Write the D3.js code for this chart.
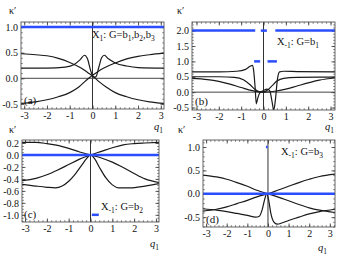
<!DOCTYPE html>
<html>
<head>
<meta charset="utf-8">
<script src="https://cdn.jsdelivr.net/npm/d3@7"></script>
<style>
  html, body { margin: 0; padding: 0; background: #fff; }
  svg text { font-family: "Liberation Serif", "DejaVu Serif", serif !important; fill: #111; }
</style>
</head>
<body>
<div id="chart"></div>
<script>
// ---- data: [q1, kappa'] pairs ----

// panel (a)  X1: G=b1,b2,b3
const aDown = [[-3.14, 0.48], [-2.5, 0.46], [-2, 0.44], [-1.5, 0.39], [-1, 0.31], [-0.5, 0.2], [-0.2, 0.11], [0, 0.05], [0.3, -0.07], [0.6, -0.17], [1, -0.28], [1.5, -0.36], [2, -0.42], [2.5, -0.46], [3.14, -0.49]];
const aUp = [[-3.14, -0.49], [-2.5, -0.46], [-2, -0.42], [-1.5, -0.36], [-1, -0.28], [-0.6, -0.17], [-0.3, -0.05], [0, 0.06], [0.2, 0.12], [0.5, 0.2], [1, 0.3], [1.5, 0.38], [2, 0.43], [2.5, 0.46], [3.14, 0.49]];
const aBump = [[-3.14, 0.2], [-2, 0.2], [-1.2, 0.22], [-0.8, 0.27], [-0.55, 0.36], [-0.35, 0.45], [-0.22, 0.38], [-0.08, 0.15], [0.05, 0.02], [0.15, 0.03], [0.28, 0.22], [0.4, 0.4], [0.52, 0.45], [0.7, 0.38], [1, 0.3], [1.5, 0.24], [2, 0.21], [3.14, 0.2]];
const aBlue = [[1.0, -3.14, 3.14]];   // [kappa', q from, q to]

// panel (b)  X-1: G=b1
const bSharp = [[-3.2, 0.66], [-2, 0.66], [-1.2, 0.68], [-0.8, 0.74], [-0.6, 0.84], [-0.5, 0.87], [-0.44, 0.7], [-0.38, 0.2], [-0.32, -0.38], [-0.26, -0.2], [-0.15, -0.01], [0, 0.05], [0.15, 0.1], [0.28, 0.05], [0.38, -0.3], [0.46, -0.58], [0.54, -0.2], [0.62, 0.4], [0.72, 0.66], [0.9, 0.68], [1.5, 0.67], [3.2, 0.66]];
const bFast = [[-3.2, 0.5], [-2, 0.5], [-1.3, 0.48], [-0.9, 0.4], [-0.6, 0.24], [-0.4, 0.1], [-0.2, 0.02], [0, 0.01], [0.2, 0.08], [0.4, 0.22], [0.6, 0.36], [0.9, 0.45], [1.5, 0.48], [2.5, 0.49], [3.2, 0.49]];
const bSlow = [[-3.2, 0.45], [-2.5, 0.41], [-2, 0.35], [-1.5, 0.26], [-1, 0.15], [-0.5, 0.05], [0, 0.0], [0.5, 0.03], [1, 0.1], [1.5, 0.2], [2, 0.3], [2.5, 0.39], [3.2, 0.46]];
const bBlue = [[2.0, -3.2, -0.37], [2.0, -0.12, 0.15], [2.0, 0.53, 3.2], [1.0, -0.42, -0.15], [1.0, 0.18, 0.6]];

// panel (c)  X-1: G=b2
const cDown = [[-3.14, 0.21], [-2.5, 0.21], [-2, 0.19], [-1.5, 0.16], [-1, 0.11], [-0.5, 0.05], [0, 0.0], [0.5, -0.05], [1, -0.12], [1.5, -0.21], [2, -0.31], [2.5, -0.4], [3.14, -0.46]];
const cUp = [[-3.14, -0.43], [-2.5, -0.39], [-2, -0.33], [-1.5, -0.25], [-1, -0.16], [-0.5, -0.07], [0, 0.0], [0.5, 0.06], [1, 0.12], [1.5, 0.17], [2, 0.19], [2.5, 0.2], [3.14, 0.21]];
const cDip = [[-3.14, -0.49], [-2.5, -0.52], [-2, -0.54], [-1.6, -0.55], [-1.3, -0.52], [-1, -0.44], [-0.7, -0.32], [-0.4, -0.17], [-0.2, -0.07], [0, 0.0], [0.2, -0.07], [0.4, -0.2], [0.7, -0.38], [1, -0.5], [1.3, -0.55], [1.8, -0.55], [2.5, -0.52], [3.14, -0.48]];
const cBlue = [[0.0, -3.14, 3.14], [-1.0, 0.06, 0.38]];

// panel (d)  X-1: G=b3
const dDown = [[-3.15, 0.4], [-2.5, 0.36], [-2, 0.31], [-1.5, 0.24], [-1, 0.16], [-0.5, 0.07], [0, 0.0], [0.5, -0.07], [1, -0.15], [1.5, -0.23], [2, -0.3], [2.5, -0.35], [3.25, -0.4]];
const dUp = [[-3.15, -0.37], [-2.5, -0.33], [-2, -0.28], [-1.5, -0.21], [-1, -0.14], [-0.5, -0.06], [0, 0.0], [0.5, 0.08], [1, 0.16], [1.5, 0.24], [2, 0.31], [2.5, 0.37], [3.25, 0.42]];
const dSpike = [[-3.15, -0.32], [-2.5, -0.35], [-2, -0.38], [-1.5, -0.42], [-1, -0.46], [-0.6, -0.5], [-0.42, -0.48], [-0.28, -0.34], [-0.16, -0.12], [-0.06, 0.0], [0.04, -0.15], [0.14, -0.42], [0.28, -0.6], [0.45, -0.65], [0.7, -0.62], [1, -0.57], [1.5, -0.5], [2, -0.43], [2.5, -0.38], [3.25, -0.33]];
const dBlue = [[0.0, -3.15, 3.25], [1.0, -0.1, -0.02]];

// tick labels
const xTicks = [-3, -2, -1, 0, 1, 2, 3];
const aTicks = [-0.5, 0.0, 0.5, 1.0];
const bTicks = [-0.5, 0.0, 0.5, 1.0, 1.5, 2.0];
const cTicks = [-1.0, -0.8, -0.6, -0.4, -0.2, 0.0, 0.2];
const dTicks = [-0.5, 0.0, 0.5, 1.0];

const W = 341, H = 256;
const BLUE = "#2a4dff";
const INK = "#1a1a1a";
const SERIF = "'Liberation Serif', 'DejaVu Serif', serif";

const svg = d3.select("#chart").append("svg")
    .attr("width", W)
    .attr("height", H)
    .attr("font-family", SERIF);

const panels = [
    { id: "a", box: [21, 164, 22, 109], xDom: [-3.14, 3.14], yDom: [-0.6, 1.1], yTicks: aTicks, yMinor: 0.1,
      curves: [aDown, aUp, aBump], blue: aBlue, zeroLine: true,
      tag: "(a)", tagPos: [24, 104],
      note: { sub: "1", g: ["b", "1", ",b", "2", ",b", "3"], x: 92, y: 38 },
      kappa: [9, 14], qPos: [154, 130] },
    { id: "b", box: [192, 335, 22, 110], xDom: [-3.2, 3.2], yDom: [-0.58, 2.28], yTicks: bTicks, yMinor: 0.1,
      curves: [bSharp, bFast, bSlow], blue: bBlue, zeroLine: true,
      tag: "(b)", tagPos: [195, 105],
      note: { sub: "-1", g: ["b", "1"], x: 277, y: 45 },
      kappa: [177, 14], qPos: [325, 130] },
    { id: "c", box: [22, 159, 140, 222], xDom: [-3.14, 3.14], yDom: [-1.12, 0.25], yTicks: cTicks, yMinor: 0.05,
      curves: [cDown, cUp, cDip], blue: cBlue, zeroLine: false,
      tag: "(c)", tagPos: [24, 218],
      note: { sub: "-1", g: ["b", "2"], x: 101, y: 210 },
      kappa: [9, 133], qPos: [150, 247] },
    { id: "d", box: [203, 335, 140, 227], xDom: [-3.15, 3.25], yDom: [-0.71, 1.15], yTicks: dTicks, yMinor: 0.1,
      curves: [dDown, dUp, dSpike], blue: dBlue, zeroLine: false,
      tag: "(d)", tagPos: [206, 223],
      note: { sub: "-1", g: ["b", "3"], x: 281, y: 155 },
      kappa: [178, 133], qPos: [318, 251] }
];

const hyphen = f => d => f(d).replace("\u2212", "-");

panels.forEach(p => drawPanel(p));

function drawPanel(p) {
    const [x0, x1, y0, y1] = p.box;
    const x = d3.scaleLinear().domain(p.xDom).range([x0, x1]);
    const y = d3.scaleLinear().domain(p.yDom).range([y1, y0]);

    const g = svg.append("g");

    // clip to the frame
    g.append("clipPath").attr("id", "clip-" + p.id)
        .append("rect").attr("x", x0).attr("y", y0).attr("width", x1 - x0).attr("height", y1 - y0);

    // minor ticks (no labels), on all four sides
    const xMinor = d3.range(Math.ceil(p.xDom[0] / 0.2) * 0.2, p.xDom[1], 0.2);
    const yMinor = d3.range(Math.ceil(p.yDom[0] / p.yMinor) * p.yMinor, p.yDom[1], p.yMinor);
    const minorStyle = sel => sel.call(s => s.select(".domain").remove())
        .selectAll("line").attr("stroke", "#666").attr("stroke-width", 0.8);

    g.append("g").attr("transform", `translate(0,${y1})`)
        .call(d3.axisBottom(x).tickValues(xMinor).tickSize(-1.8).tickFormat(""))
        .call(minorStyle);
    g.append("g").attr("transform", `translate(0,${y0})`)
        .call(d3.axisTop(x).tickValues(xMinor).tickSize(-1.8).tickFormat(""))
        .call(minorStyle);
    g.append("g").attr("transform", `translate(${x0},0)`)
        .call(d3.axisLeft(y).tickValues(yMinor).tickSize(-1.8).tickFormat(""))
        .call(minorStyle);
    g.append("g").attr("transform", `translate(${x1},0)`)
        .call(d3.axisRight(y).tickValues(yMinor).tickSize(-1.8).tickFormat(""))
        .call(minorStyle);

    // major ticks with labels
    const majorStyle = sel => sel.call(s => s.select(".domain").remove())
        .attr("font-family", SERIF)
        .call(s => s.selectAll("line").attr("stroke", "#444").attr("stroke-width", 0.9))
        .call(s => s.selectAll("text").style("font-size", "10px").attr("fill", "#111"));

    g.append("g").attr("transform", `translate(0,${y1})`)
        .call(d3.axisBottom(x).tickValues(xTicks).tickSize(-3.5).tickPadding(3).tickFormat(hyphen(d3.format("d"))))
        .call(majorStyle);
    g.append("g").attr("transform", `translate(0,${y0})`)
        .call(d3.axisTop(x).tickValues(xTicks).tickSize(-3.5).tickFormat(""))
        .call(majorStyle);
    g.append("g").attr("transform", `translate(${x0},0)`)
        .call(d3.axisLeft(y).tickValues(p.yTicks).tickSize(-3.5).tickPadding(3).tickFormat(hyphen(d3.format(".1f"))))
        .call(majorStyle);
    g.append("g").attr("transform", `translate(${x1},0)`)
        .call(d3.axisRight(y).tickValues(p.yTicks).tickSize(-3.5).tickFormat(""))
        .call(majorStyle);

    const inner = g.append("g").attr("clip-path", `url(#clip-${p.id})`);

    // zero axes
    inner.append("line")
        .attr("x1", x(0)).attr("x2", x(0)).attr("y1", y0).attr("y2", y1)
        .attr("stroke", "#333").attr("stroke-width", 1);
    if (p.zeroLine) {
        inner.append("line")
            .attr("x1", x0).attr("x2", x1).attr("y1", y(0)).attr("y2", y(0))
            .attr("stroke", "#444").attr("stroke-width", 1);
    }

    // black curves
    const line = d3.line()
        .x(d => x(d[0]))
        .y(d => y(d[1]))
        .curve(d3.curveMonotoneX);

    inner.selectAll("path.curve")
        .data(p.curves)
        .enter()
        .append("path")
        .attr("class", "curve")
        .attr("d", line)
        .attr("fill", "none")
        .attr("stroke", INK)
        .attr("stroke-width", 1.2);

    // blue levels
    inner.selectAll("line.blue")
        .data(p.blue)
        .enter()
        .append("line")
        .attr("class", "blue")
        .attr("x1", d => x(d[1]))
        .attr("x2", d => x(d[2]))
        .attr("y1", d => y(d[0]))
        .attr("y2", d => y(d[0]))
        .attr("stroke", BLUE)
        .attr("stroke-width", 2.5);

    // frame
    g.append("rect")
        .attr("x", x0).attr("y", y0)
        .attr("width", x1 - x0).attr("height", y1 - y0)
        .attr("fill", "none")
        .attr("stroke", "#555")
        .attr("stroke-width", 0.9);

    // panel tag
    g.append("text")
        .attr("x", p.tagPos[0]).attr("y", p.tagPos[1])
        .style("font-size", "11px")
        .text(p.tag);

    // annotation  X_sub: G=b_i,...
    const note = g.append("text")
        .attr("x", p.note.x).attr("y", p.note.y)
        .style("font-size", "10.5px");
    note.append("tspan").text("X");
    note.append("tspan").attr("dy", 2.5).style("font-size", "7.5px").text(p.note.sub);
    note.append("tspan").attr("dy", -2.5).text(": G=");
    p.note.g.forEach((t, i) => {
        if (i % 2 === 0) {
            note.append("tspan").attr("dy", i === 0 ? 0 : -2.5).text(t);
        } else {
            note.append("tspan").attr("dy", 2.5).style("font-size", "7.5px").text(t);
        }
    });

    // kappa' axis label
    g.append("text")
        .attr("x", p.kappa[0]).attr("y", p.kappa[1])
        .style("font-size", "10px")
        .text("κ′");

    // q1 axis label
    const q = g.append("text")
        .attr("x", p.qPos[0]).attr("y", p.qPos[1])
        .style("font-size", "10.5px");
    q.append("tspan").style("font-style", "italic").text("q");
    q.append("tspan").attr("dy", 2.5).style("font-size", "7.5px").text("1");
}
</script>
</body>
</html>
